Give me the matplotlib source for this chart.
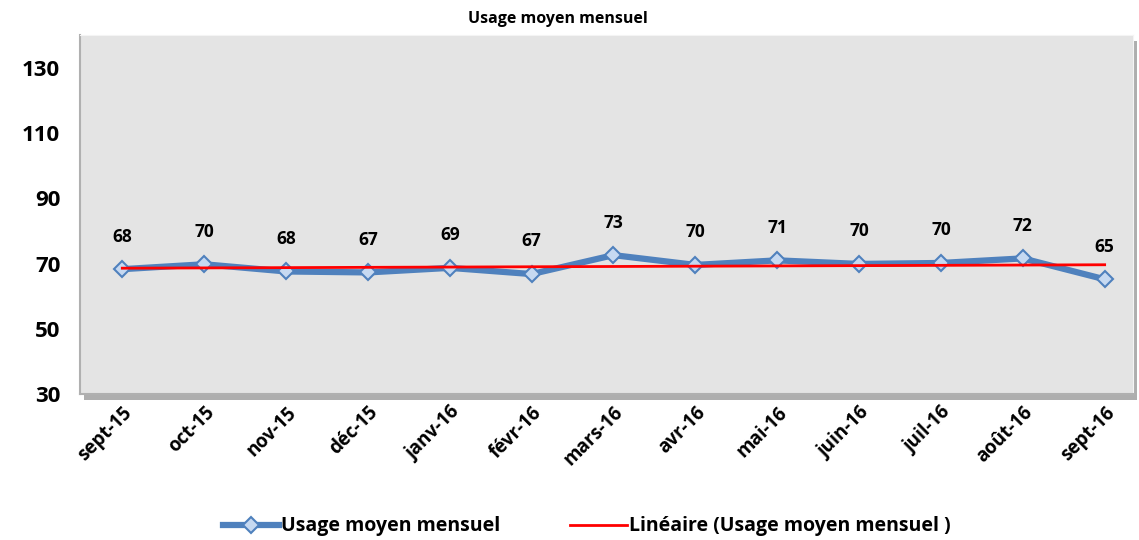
import numpy as np
import matplotlib
matplotlib.use('Agg')
import matplotlib.pyplot as plt
import matplotlib.patheffects as pe

plt.rcParams['font.family'] = ['Open Sans', 'DejaVu Sans']

## Données
mois = ['sept-15', 'oct-15', 'nov-15', 'déc-15', 'janv-16', 'févr-16', 'mars-16',
        'avr-16', 'mai-16', 'juin-16', 'juil-16', 'août-16', 'sept-16']
usage = [68.3, 69.8, 67.6, 67.3, 68.7, 66.8, 72.6, 69.6, 71.0, 69.9, 70.2, 71.6, 65.2]

x = np.arange(len(mois))
pente, origine = np.polyfit(x, usage, 1)
tendance = pente * x + origine

## Plotten
fig = plt.figure(figsize=(11.39, 5.4), dpi=100)
ax = fig.add_axes([0.070, 0.270, 0.925, 0.665])
ax.set_facecolor('#E4E4E4')
ax.patch.set_path_effects([pe.withSimplePatchShadow(offset=(3, -4), shadow_rgbFace='#9A9A9A', alpha=0.8)])
for s in ['top', 'right']:
    ax.spines[s].set_color('#F4F4F4')
for s in ['left', 'bottom']:
    ax.spines[s].set_color('#B0B0B0')
    ax.spines[s].set_linewidth(1.5)

ax.plot(x, usage, c='#4F81BD', lw=4.5, marker='D', ms=8, mfc='#C6D9F1',
        mec='#4F81BD', mew=1.5, label='Usage moyen mensuel', zorder=3)
ax.plot(x, tendance, c='#FF0000', lw=2, label='Linéaire (Usage moyen mensuel )', zorder=4)

for xi, v in zip(x, usage):
    ax.annotate(f'{round(v)}', (xi, v), xytext=(0, 17), textcoords='offset points',
                ha='center', va='bottom', fontsize=12.5, fontweight='bold')

ax.set_xlim(-0.52, 12.35)
ax.set_ylim(30, 140)
ax.set_yticks([30, 50, 70, 90, 110, 130])
ax.set_xticks(x)
ax.set_xticklabels(mois, rotation=45, ha='right', rotation_mode='anchor')
ax.tick_params(axis='y', length=0, pad=14, labelsize=16)
ax.tick_params(axis='x', length=0, pad=6, labelsize=13.5)
for lab in ax.get_yticklabels() + ax.get_xticklabels():
    lab.set_fontweight('bold')

fig.text(0.49, 0.965, 'Usage moyen mensuel', ha='center', va='center',
         fontsize=11.5, fontweight='bold')

fig.legend(loc='center', bbox_to_anchor=(0.515, 0.025), ncol=2, frameon=False,
           prop={'size': 14, 'weight': 'bold'}, handlelength=2.9, columnspacing=3.6,
           handletextpad=0.1)

## Output
fig.savefig('out.png', dpi=100)
